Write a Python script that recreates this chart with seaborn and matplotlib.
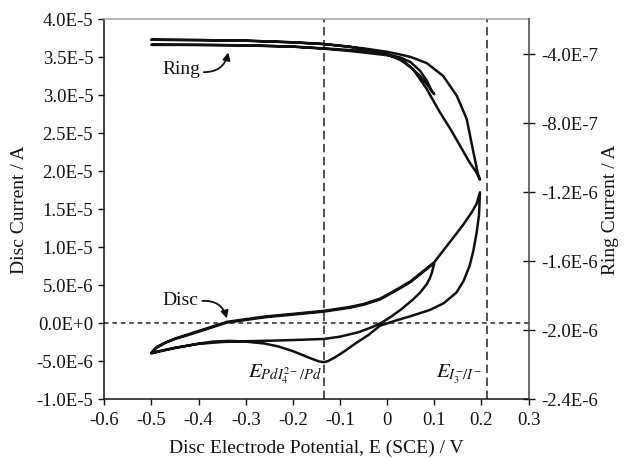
import numpy as np
import pandas as pd
import matplotlib
matplotlib.use("Agg")
import matplotlib.pyplot as plt
import seaborn as sns

# ---- Disc current (uA) vs potential (V vs SCE), one list per sweep segment ----
disc_fwd1_v = [-0.5, -0.49, -0.47, -0.45, -0.42, -0.38, -0.34, -0.30, -0.26, -0.20,
               -0.134, -0.08, -0.05, -0.015, 0.02, 0.05, 0.07, 0.09, 0.1]
disc_fwd1_i = [-3.9, -3.2, -2.55, -2.1, -1.55, -0.75, 0.05, 0.4, 0.75, 1.1,
               1.5, 2.0, 2.4, 3.1, 4.3, 5.4, 6.4, 7.4, 7.85]

disc_rev1_v = [0.1, 0.095, 0.09, 0.084, 0.07, 0.055, 0.03, 0.01, -0.01, -0.03, -0.06,
               -0.1, -0.134, -0.18, -0.23, -0.3, -0.35, -0.4, -0.45, -0.48, -0.5]
disc_rev1_i = [7.85, 6.6, 5.8, 5.1, 4.0, 3.1, 1.8, 0.9, 0.1, -0.5, -1.2,
               -1.8, -2.1, -2.2, -2.3, -2.4, -2.5, -2.75, -3.25, -3.65, -3.95]

disc_fwd2_v = [-0.5, -0.49, -0.47, -0.45, -0.42, -0.38, -0.34, -0.30, -0.26, -0.20,
               -0.134, -0.08, -0.05, -0.015, 0.02, 0.05, 0.07, 0.09, 0.1, 0.12,
               0.14, 0.16, 0.18, 0.19, 0.197]
disc_fwd2_i = [-3.95, -3.3, -2.6, -2.05, -1.45, -0.65, 0.15, 0.5, 0.85, 1.2,
               1.6, 2.1, 2.5, 3.2, 4.4, 5.5, 6.5, 7.5, 8.0, 9.6,
               11.2, 12.8, 14.6, 15.7, 17.2]

disc_rev2_v = [0.197, 0.195, 0.19, 0.183, 0.175, 0.162, 0.147, 0.12, 0.09, 0.05,
               0.02, -0.015, -0.04, -0.065, -0.09, -0.11, -0.125, -0.134, -0.145,
               -0.16, -0.18, -0.2, -0.23, -0.26, -0.3, -0.334, -0.37, -0.404,
               -0.45, -0.48, -0.5]
disc_rev2_i = [17.2, 14.2, 11.9, 9.5, 7.5, 5.5, 4.0, 2.6, 1.7, 0.9,
               0.35, -0.35, -1.6, -2.6, -3.7, -4.5, -5.0, -5.15, -5.05,
               -4.7, -4.2, -3.7, -3.1, -2.7, -2.45, -2.35, -2.45, -2.75,
               -3.3, -3.7, -4.0]

# ---- Ring current (1e-7 A) vs disc potential, one list per sweep segment ----
ring_fwd1_v = [-0.5, -0.4, -0.3, -0.2, -0.134, -0.08, -0.03, 0.0, 0.03, 0.05, 0.07, 0.085, 0.1]
ring_fwd1_i = [-3.20, -3.22, -3.26, -3.35, -3.45, -3.6, -3.85, -4.05, -4.4, -4.8, -5.3, -5.8, -6.35]

ring_rev1_v = [0.1, 0.095, 0.085, 0.07, 0.05, 0.03, 0.0, -0.05, -0.134, -0.2, -0.3, -0.4, -0.5]
ring_rev1_i = [-6.35, -6.2, -5.6, -5.0, -4.5, -4.25, -4.05, -3.85, -3.7, -3.6, -3.52, -3.5, -3.5]

ring_fwd2_v = [-0.5, -0.4, -0.3, -0.2, -0.134, -0.08, -0.03, 0.0, 0.027, 0.055, 0.084,
               0.112, 0.135, 0.154, 0.175, 0.19, 0.197]
ring_fwd2_i = [-3.48, -3.5, -3.53, -3.6, -3.72, -3.85, -4.0, -4.1, -4.25, -4.9, -6.05,
               -7.4, -8.4, -9.3, -10.3, -10.9, -11.3]

ring_rev2_v = [0.197, 0.193, 0.183, 0.169, 0.148, 0.119, 0.084, 0.05, 0.027, 0.0,
               -0.05, -0.134, -0.2, -0.3, -0.4, -0.5]
ring_rev2_i = [-11.3, -11.0, -9.7, -7.8, -6.45, -5.3, -4.55, -4.2, -4.05, -3.9,
               -3.7, -3.45, -3.35, -3.25, -3.22, -3.2]

# ---- Reference potentials and axis ticks ----
e_pd = -0.133
e_iodide = 0.213
x_ticks = [-0.6, -0.5, -0.4, -0.3, -0.2, -0.1, 0.0, 0.1, 0.2, 0.3]
x_tick_labels = ["-0.6", "-0.5", "-0.4", "-0.3", "-0.2", "-0.1", "0", "0.1", "0.2", "0.3"]
disc_ticks = [-1.0e-5, -5.0e-6, 0.0, 5.0e-6, 1.0e-5, 1.5e-5, 2.0e-5, 2.5e-5, 3.0e-5, 3.5e-5, 4.0e-5]
disc_tick_labels = ["-1.0E-5", "-5.0E-6", "0.0E+0", "5.0E-6", "1.0E-5", "1.5E-5",
                    "2.0E-5", "2.5E-5", "3.0E-5", "3.5E-5", "4.0E-5"]
ring_ticks = [-2.4e-6, -2.0e-6, -1.6e-6, -1.2e-6, -8.0e-7, -4.0e-7]
ring_tick_labels = ["-2.4E-6", "-2.0E-6", "-1.6E-6", "-1.2E-6", "-8.0E-7", "-4.0E-7"]


def sweep_frame(segments, scale):
    vs = np.concatenate([np.asarray(v, float) for v, _ in segments])
    cs = np.concatenate([np.asarray(c, float) for _, c in segments]) * scale
    return pd.DataFrame({"E": vs, "I": cs})


disc = sweep_frame([(disc_fwd1_v, disc_fwd1_i), (disc_rev1_v, disc_rev1_i),
                    (disc_fwd2_v, disc_fwd2_i), (disc_rev2_v, disc_rev2_i)], 1e-6)
ring = sweep_frame([(ring_fwd1_v, ring_fwd1_i), (ring_rev1_v, ring_rev1_i),
                    (ring_fwd2_v, ring_fwd2_i), (ring_rev2_v, ring_rev2_i)], 1e-7)

sns.set_theme(style="ticks")
plt.rcParams["font.family"] = ["Liberation Serif", "DejaVu Serif"]
plt.rcParams["mathtext.fontset"] = "stix"

W, H = 625, 460
fig = plt.figure(figsize=(W / 100, H / 100), dpi=100)
ax = fig.add_axes([104.3 / W, 1 - 400 / H, (528.5 - 104.3) / W, 380 / H])

sns.lineplot(data=disc, x="E", y="I", sort=False, estimator=None,
             color="#111111", lw=1.8, ax=ax)

ax2 = ax.twinx()
sns.lineplot(data=ring, x="E", y="I", sort=False, estimator=None,
             color="#111111", lw=1.8, ax=ax2)

# reference lines
dash_v = (0, (5.5, 3.0))
dash_h = (0, (3.0, 2.5))
ax.axvline(e_pd, color="#222222", lw=1.1, ls=dash_v, zorder=1)
ax.axvline(e_iodide, color="#222222", lw=1.1, ls=dash_v, zorder=1)
ax.axhline(0.0, color="#222222", lw=1.1, ls=dash_h, zorder=1)

# axes limits and ticks
ax.set_xlim(-0.6, 0.3)
ax.set_ylim(-1.0e-5, 4.0e-5)
ax2.set_ylim(-2.4e-6, -2.0e-7)
ax.set_xticks(x_ticks)
ax.set_xticklabels(x_tick_labels)
ax.set_yticks(disc_ticks)
ax.set_yticklabels(disc_tick_labels)
ax2.set_yticks(ring_ticks)
ax2.set_yticklabels(ring_tick_labels)

tick_fs = 13.5
ax.tick_params(axis="x", direction="out", length=4.5, width=1, labelsize=tick_fs, pad=4, colors="#111111")
ax.tick_params(axis="y", direction="out", length=4, width=1, labelsize=tick_fs, pad=4, colors="#111111")
ax2.tick_params(axis="y", direction="inout", length=8, width=1, labelsize=tick_fs, pad=5, colors="#111111")

for s in ["left", "bottom"]:
    ax.spines[s].set_color("#111111")
    ax.spines[s].set_linewidth(1.1)
ax.spines["top"].set_color("#a0a0a0")
ax.spines["top"].set_linewidth(1.1)
ax.spines["right"].set_visible(False)
for s in ["top", "left", "bottom"]:
    ax2.spines[s].set_visible(False)
ax2.spines["right"].set_color("#444444")
ax2.spines["right"].set_linewidth(1.1)

label_fs = 14
ax.set_xlabel("Disc Electrode Potential, E (SCE) / V", fontsize=label_fs, labelpad=8, color="#111111")
ax.set_ylabel("Disc Current / A", fontsize=label_fs, labelpad=6, color="#111111")
ax2.set_ylabel("Ring Current / A", fontsize=label_fs, labelpad=3, color="#111111")

# curve annotations
arrow_kw = dict(arrowstyle="-|>", color="#111111", lw=1.3, mutation_scale=11,
                shrinkA=0, shrinkB=0)
ax.text(-0.436, 3.35e-5, "Ring", ha="center", va="center", fontsize=14, color="#111111")
ax.annotate("", xy=(-0.337, 3.56e-5), xytext=(-0.389, 3.30e-5),
            arrowprops=dict(connectionstyle="arc3,rad=0.4", **arrow_kw))
ax.text(-0.4395, 3.1e-6, "Disc", ha="center", va="center", fontsize=14, color="#111111")
ax.annotate("", xy=(-0.340, 0.6e-6), xytext=(-0.392, 2.9e-6),
            arrowprops=dict(connectionstyle="arc3,rad=-0.4", **arrow_kw))

ax.text(-0.139, -7.1e-6, r"$E_{PdI_4^{2-}/Pd}$", ha="right", va="baseline",
        fontsize=15, color="#111111")
ax.text(0.2003, -7.0e-6, r"$E_{I_3^{-}/I^{-}}$", ha="right", va="baseline",
        fontsize=15, color="#111111")

fig.savefig("out.png", dpi=100)
